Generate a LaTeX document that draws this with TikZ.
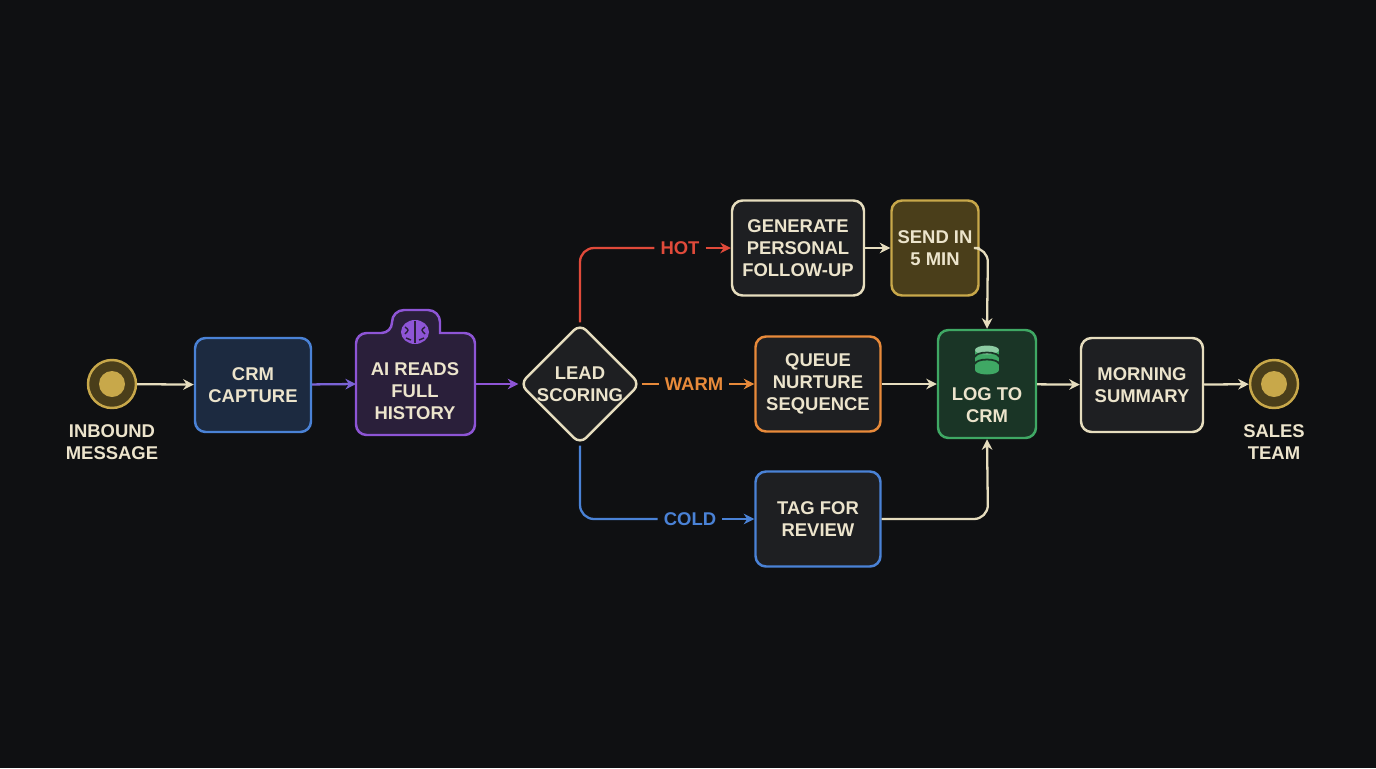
\documentclass[tikz,border=0pt]{standalone}
\usepackage{fontspec}
\setmainfont{Liberation Sans}
\usetikzlibrary{shapes.geometric,arrows.meta}
\definecolor{bg}{HTML}{0F1012}
\definecolor{txt}{HTML}{ECE4CC}
\definecolor{cream}{HTML}{E6DDBE}
\definecolor{gold}{HTML}{C8A84A}
\definecolor{goldf}{HTML}{4A3E1A}
\definecolor{blueb}{HTML}{4A82D6}
\definecolor{bluef}{HTML}{1C2A40}
\definecolor{purp}{HTML}{8E55D6}
\definecolor{purpf}{HTML}{2A1F3A}
\definecolor{orng}{HTML}{E88A3A}
\definecolor{redc}{HTML}{E04A3A}
\definecolor{grn}{HTML}{3FA864}
\definecolor{grnf}{HTML}{1A3526}
\definecolor{boxf}{HTML}{1E1F22}
\begin{document}
\begin{tikzpicture}[x=0.02cm,y=-0.02cm,
  every node/.style={font=\fontsize{10.5}{12.5}\selectfont\bfseries, text=txt, align=center},
  box/.style={draw=#1, line width=1.4pt, rounded corners=6pt, fill=boxf},
  con/.style={draw=#1, line width=1.3pt, -{Stealth[length=6pt,width=6pt]}},
  lbl/.style={text=#1}]
\fill[bg] (0,0) rectangle (1376,768);
\useasboundingbox (0,0) rectangle (1376,768);
% start / end
\node[circle, draw=gold, fill=goldf, line width=1.4pt, minimum size=48*0.02cm, inner sep=0] (in) at (112,384) {};
\fill[gold] (in.center) circle (13);
\node (inl) at (112,442) {INBOUND\\MESSAGE};
\node[circle, draw=gold, fill=goldf, line width=1.4pt, minimum size=48*0.02cm, inner sep=0] (out) at (1274,384) {};
\fill[gold] (out.center) circle (13);
\node (outl) at (1274,442) {SALES\\TEAM};
% boxes
\node[box=blueb, fill=bluef, minimum width=116*0.02cm, minimum height=94*0.02cm] (crm) at (253,385) {CRM\\CAPTURE};
\filldraw[fill=purpf, draw=purp, line width=1.4pt, rounded corners=6pt] (356,333) -- (392,333) {[rounded corners=0pt] -- (392,322) arc[start angle=180,end angle=270,radius=12] -- (428,310) arc[start angle=270,end angle=360,radius=12] -- (440,333)} -- (475,333) -- (475,435) -- (356,435) -- cycle;
\node (ai) at (415,391) {AI READS\\FULL\\HISTORY};
\coordinate (aiL) at (356,384); \coordinate (aiR) at (475,384);
% brain icon
\fill[purp] (415,332) ellipse (14 and 12);
\draw[purpf, line width=0.8pt] (415,321) -- (415,343);
\draw[purpf, line width=0.8pt] (405,327) .. controls (409,330) .. (405,334) (425,327) .. controls (421,330) .. (425,334) (406,338) -- (411,340) (424,338) -- (419,340);
\node[diamond, draw=cream, fill=boxf, line width=1.4pt, minimum width=120*0.02cm, minimum height=120*0.02cm, inner sep=0, rounded corners=5pt] (lead) at (580,384) {LEAD\\SCORING};
\node[box=cream, minimum width=132*0.02cm, minimum height=95*0.02cm] (gen) at (798,248) {GENERATE\\PERSONAL\\FOLLOW-UP};
\node[box=gold, fill=goldf, minimum width=87*0.02cm, minimum height=95*0.02cm] (send) at (935,248) {SEND IN\\5 MIN};
\node[box=orng, minimum width=125*0.02cm, minimum height=95*0.02cm] (queue) at (818,384) {QUEUE\\NURTURE\\SEQUENCE};
\node[box=blueb, minimum width=125*0.02cm, minimum height=95*0.02cm] (tag) at (818,519) {TAG FOR\\REVIEW};
\node[box=grn, fill=grnf, minimum width=98*0.02cm, minimum height=108*0.02cm] (log) at (987,384) {};
\node (logt) at (987,405) {LOG TO\\CRM};
% db icon
\fill[grn] (975,350) rectangle (999,370);
\fill[grn] (987,370) ellipse (12 and 4.5);
\fill[grn!60!white] (987,350) ellipse (12 and 4.5);
\draw[grnf, line width=1pt] (975,357) arc[start angle=180,end angle=0,x radius=12,y radius=-4.5];
\draw[grnf, line width=1pt] (975,364) arc[start angle=180,end angle=0,x radius=12,y radius=-4.5];
\node[box=cream, minimum width=122*0.02cm, minimum height=94*0.02cm] (morn) at (1142,385) {MORNING\\SUMMARY};
% connectors
\draw[con=cream] (in) -- (crm);
\draw[con=purp!70!blueb] (crm) -- (aiL);
\draw[con=purp] (aiR) -- (lead.west);
\node[lbl=redc] (hot) at (680,248) {HOT};
\node[lbl=orng] (warm) at (694,384) {WARM};
\node[lbl=blueb] (cold) at (690,519) {COLD};
\draw[redc, line width=1.3pt, rounded corners=8pt] (lead.north) -- (580,248) -- (hot.west);
\draw[con=redc] (hot.east) -- (gen);
\draw[orng, line width=1.3pt] (lead.east) -- (warm.west);
\draw[con=orng] (warm.east) -- (queue);
\draw[blueb, line width=1.3pt, rounded corners=8pt] (lead.south) -- (580,519) -- (cold.west);
\draw[con=blueb] (cold.east) -- (tag);
\draw[con=cream] (gen) -- (send);
\draw[con=cream, rounded corners=8pt] (send.east) -- (988,248) -- (log.north);
\draw[con=cream] (queue) -- (log);
\draw[con=cream, rounded corners=8pt] (tag.east) -- (988,519) -- (log.south);
\draw[con=cream] (log) -- (morn);
\draw[con=cream] (morn) -- (out);
\end{tikzpicture}
\end{document}
